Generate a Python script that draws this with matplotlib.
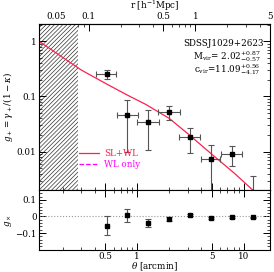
import numpy as np
import matplotlib
matplotlib.use("Agg")
import matplotlib.pyplot as plt
from matplotlib.ticker import FixedLocator, NullFormatter, LogLocator, MultipleLocator

plt.rcParams['font.family'] = 'DejaVu Serif'
plt.rcParams['mathtext.fontset'] = 'dejavuserif'
plt.rcParams['hatch.linewidth'] = 0.5

# shear profile data (theta in arcmin)
theta = [0.52, 0.81, 1.27, 1.99, 3.12, 4.87, 7.67, 12.2]
theta_lo = [0.41, 0.64, 1.00, 1.55, 2.48, 3.93, 6.04, 9.6]
theta_hi = [0.63, 1.02, 1.60, 2.51, 3.87, 5.96, 9.50, 15.2]
gplus = [0.251, 0.047, 0.034, 0.0533, 0.0183, 0.00736, 0.0091, 0.0015]
gplus_lo = [0.21, 0.010, 0.0107, 0.0382, 0.0093, 0.0010, 0.00556, 0.0005]
gplus_hi = [0.306, 0.0846, 0.056, 0.0668, 0.027, 0.0132, 0.0125, 0.00366]
gcross = [-0.055, 0.008, -0.037, -0.016, 0.008, -0.010, -0.002, -0.006]
gcross_err = [0.055, 0.04, 0.024, 0.014, 0.008, 0.005, 0.005, 0.005]

# best-fit model curve (SL+WL)
model_theta = [0.12, 0.2, 0.3, 0.5, 0.8, 1.2, 2.0, 3.0, 5.0, 8.0, 12.2]
model_g = [1.0, 0.51, 0.30, 0.174, 0.107, 0.072, 0.040, 0.021, 0.009, 0.0042, 0.002]

theta_min = 0.28  # strong lensing region (hatched)
arcmin_per_mpc = 3.5

theta = np.array(theta)
xerr = [theta - np.array(theta_lo), np.array(theta_hi) - theta]
gplus = np.array(gplus)
yerr = [gplus - np.array(gplus_lo), np.array(gplus_hi) - gplus]

fs = 6.3

fig = plt.figure(figsize=(2.74, 2.72), dpi=100)
ax1 = fig.add_axes([0.142, 0.300, 0.843, 0.612])
ax2 = fig.add_axes([0.142, 0.082, 0.843, 0.218], sharex=ax1)

xlim = (0.12, 17.5)

# top panel
ax1.axvspan(xlim[0], theta_min, facecolor='white', edgecolor='#333333', hatch='////////', lw=0)
ax1.plot(model_theta, model_g, color='#ff2050', lw=0.9, label='SL+WL')
ax1.plot([], [], color='magenta', lw=0.9, ls='--', label='WL only')
ax1.errorbar(theta, gplus, xerr=xerr, yerr=yerr, fmt='s', ms=3, color='black',
             ecolor='#555555', elinewidth=0.8, capsize=2, capthick=0.8)
ax1.set_xscale('log')
ax1.set_yscale('log')
ax1.set_xlim(*xlim)
ax1.set_ylim(0.002, 2.05)
ax1.yaxis.set_major_locator(FixedLocator([0.01, 0.1, 1]))
ax1.set_yticklabels(['0.01', '0.1', '1'])
ax1.yaxis.set_minor_locator(LogLocator(base=10, subs=np.arange(2, 10)))
ax1.yaxis.set_minor_formatter(NullFormatter())
ax1.tick_params(which='both', direction='in', right=True, labelsize=fs, pad=2)
ax1.tick_params(which='major', length=5, width=0.7)
ax1.tick_params(which='minor', length=2.5, width=0.5)
ax1.tick_params(axis='x', labelbottom=False)
ax1.set_ylabel(r'$g_+ = \gamma_+/(1-\kappa)$', fontsize=fs, labelpad=1)

leg = ax1.legend(loc='lower left', bbox_to_anchor=(0.14, 0.08), frameon=False, fontsize=fs,
                 handlelength=2.3, handletextpad=0.6, labelspacing=0.3)
for txt, c in zip(leg.get_texts(), ['#ff2050', 'magenta']):
    txt.set_color(c)

ax1.text(0.975, 0.885, 'SDSSJ1029+2623', transform=ax1.transAxes, ha='right', va='center', fontsize=fs)
ax1.text(0.96, 0.805, r'M$_{\rm vir}$= 2.02$^{+0.87}_{-0.57}$', transform=ax1.transAxes,
         ha='right', va='center', fontsize=fs)
ax1.text(0.96, 0.725, r'c$_{\rm vir}$=11.09$^{+0.56}_{-4.17}$', transform=ax1.transAxes,
         ha='right', va='center', fontsize=fs)

# top axis in physical units
sec = ax1.secondary_xaxis('top', functions=(lambda t: t / arcmin_per_mpc,
                                            lambda r: r * arcmin_per_mpc))
sec.xaxis.set_major_locator(FixedLocator([0.05, 0.1, 0.5, 1, 5]))
sec.set_xticklabels(['0.05', '0.1', '0.5', '1', '5'])
sec.xaxis.set_minor_locator(LogLocator(base=10, subs=np.arange(2, 10)))
sec.xaxis.set_minor_formatter(NullFormatter())
sec.tick_params(which='both', direction='in', labelsize=fs, pad=2)
sec.tick_params(which='major', length=5, width=0.7)
sec.tick_params(which='minor', length=2.5, width=0.5)
sec.set_xlabel(r'r [h$^{-1}$Mpc]', fontsize=fs, labelpad=2)

# bottom panel
ax2.axhline(0, color='#999999', lw=0.8, ls=':')
ax2.errorbar(theta, gcross, yerr=gcross_err, fmt='s', ms=3, color='black',
             ecolor='#555555', elinewidth=0.8, capsize=2, capthick=0.8)
ax2.set_ylim(-0.2, 0.157)
ax2.yaxis.set_major_locator(FixedLocator([-0.1, 0, 0.1]))
ax2.set_yticklabels(['\u22120.1', '0', '0.1'])
ax2.yaxis.set_minor_locator(MultipleLocator(0.02))
ax2.xaxis.set_major_locator(FixedLocator([0.5, 1, 5, 10]))
ax2.set_xticklabels(['0.5', '1', '5', '10'])
ax2.xaxis.set_minor_locator(LogLocator(base=10, subs=np.arange(2, 10)))
ax2.xaxis.set_minor_formatter(NullFormatter())
ax2.tick_params(which='both', direction='in', right=True, top=True, labelsize=fs, pad=1.5)
ax2.tick_params(which='major', length=5, width=0.7)
ax2.tick_params(which='minor', length=2.5, width=0.5)
ax2.set_xlabel(r'$\theta$ [arcmin]', fontsize=fs, labelpad=0)
ax2.set_ylabel(r'$g_\times$', fontsize=fs, labelpad=1)

for a in (ax1, ax2):
    for s in a.spines.values():
        s.set_linewidth(0.8)

fig.savefig('out.png', dpi=100)
